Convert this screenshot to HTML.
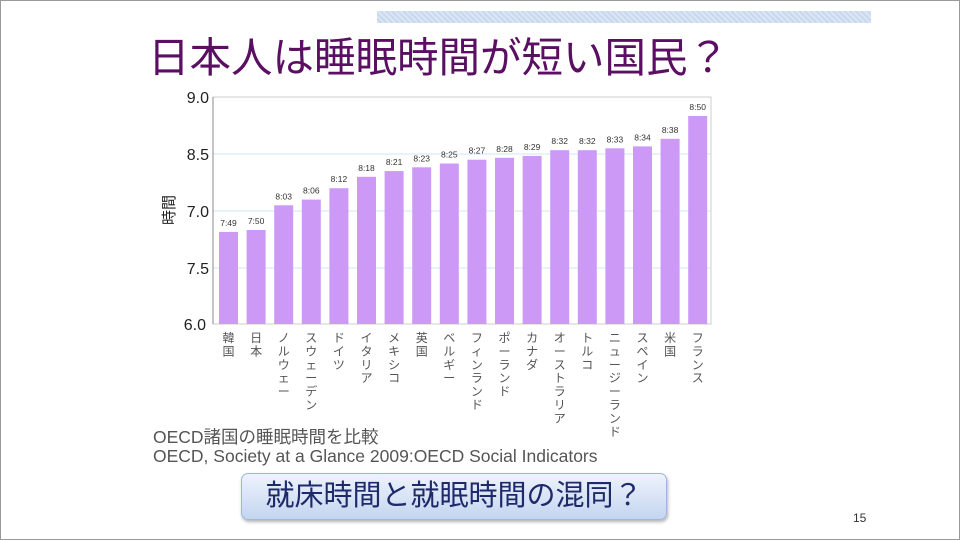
<!DOCTYPE html>
<html><head><meta charset="utf-8"><style>
body{margin:0;width:960px;height:540px;overflow:hidden;background:#fff;font-family:"Liberation Sans","Noto Sans CJK JP",sans-serif;}
.slide{position:absolute;left:0;top:0;width:958px;height:538px;border:1px solid #999;background:#fff;}
.band{position:absolute;left:376px;top:10px;width:494px;height:12px;background:repeating-linear-gradient(45deg,#dbe6f5 0 2px,#c9d8ee 2px 4px);}
.title{position:absolute;left:147px;top:32px;font-size:41.5px;line-height:50px;color:#5b0f63;white-space:nowrap;}
.src{position:absolute;left:152px;font-size:17.5px;line-height:19px;color:#555;white-space:nowrap;}
.box{position:absolute;left:240px;top:472px;width:424px;height:45px;border-radius:7px;border:1px solid #9fb6dd;background:linear-gradient(#eef3fc,#c4d5f0);box-shadow:1px 2px 3px rgba(0,0,0,.3);font-size:29px;color:#1f2a6b;text-align:center;line-height:45px;}
.pn{position:absolute;left:852px;top:510px;font-size:12px;color:#333;}
</style></head><body><div class="slide">
<div class="band"></div>
<div class="title">日本人は睡眠時間が短い国民？</div>
<svg width="960" height="540" style="position:absolute;left:0;top:0" font-family="Liberation Sans, Noto Sans CJK JP, sans-serif">
<rect x="212" y="96" width="498" height="227" fill="#fff" stroke="#ccc"/>
<g stroke="#cfe6f7" stroke-width="1"><line x1="212" y1="153" x2="710" y2="153"/><line x1="212" y1="210" x2="710" y2="210"/><line x1="212" y1="267" x2="710" y2="267"/></g>
<line x1="212" y1="96" x2="212" y2="323" stroke="#888"/>
<g font-size="16" fill="#222" text-anchor="end"><text x="208" y="102">9.0</text><text x="208" y="159">8.5</text><text x="208" y="216">7.0</text><text x="208" y="273">7.5</text><text x="205" y="329">6.0</text></g>
<text x="0" y="0" font-size="15" fill="#222" transform="translate(173,209) rotate(-90)" text-anchor="middle">時間</text>
<g id="bars"></g>
</svg>
<div class="src" style="top:427px">OECD諸国の睡眠時間を比較</div>
<div class="src" style="top:446px">OECD, Society at a Glance 2009:OECD Social Indicators</div>
<div class="box">就床時間と就眠時間の混同？</div>
<div class="pn">15</div>
</div>
<script>
var d=[["7:49","韓国"],["7:50","日本"],["8:03","ノルウェー"],["8:06","スウェーデン"],["8:12","ドイツ"],["8:18","イタリア"],["8:21","メキシコ"],["8:23","英国"],["8:25","ベルギー"],["8:27","フィンランド"],["8:28","ポーランド"],["8:29","カナダ"],["8:32","オーストラリア"],["8:32","トルコ"],["8:33","ニュージーランド"],["8:34","スペイン"],["8:38","米国"],["8:50","フランス"]];
var s="";
d.forEach(function(e,i){var p=e[0].split(":");var v=+p[0]+p[1]/60;var y=96+(9-v)*114;var x=218+i*27.6;
s+='<rect x="'+x+'" y="'+y+'" width="19" height="'+(323-y)+'" fill="#cc99f7"/>';
s+='<text x="'+(x+9.5)+'" y="'+(y-6)+'" font-size="8.5" fill="#333" text-anchor="middle">'+e[0]+'</text>';
for(var k=0;k<e[1].length;k++){s+='<text x="'+(x+9.5)+'" y="'+(341+k*13.4)+'" font-size="12" fill="#555" text-anchor="middle">'+e[1][k]+'</text>';}
});
document.getElementById("bars").innerHTML=s;
</script>
</body></html>
